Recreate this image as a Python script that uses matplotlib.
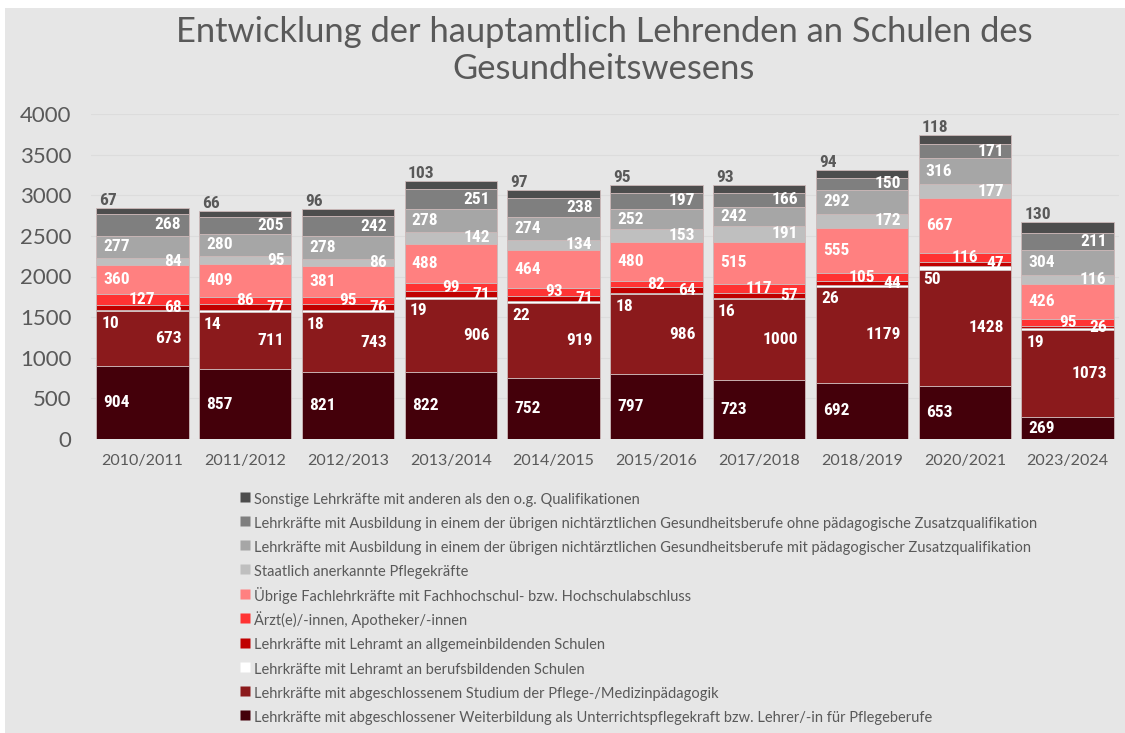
import numpy as np
import matplotlib
matplotlib.use('Agg')
import matplotlib.pyplot as plt
from matplotlib import font_manager
from matplotlib.lines import Line2D
from matplotlib.patches import Rectangle

# school years on the x axis
years = ['2010/2011', '2011/2012', '2012/2013', '2013/2014', '2014/2015',
         '2015/2016', '2017/2018', '2018/2019', '2020/2021', '2023/2024']

# stacked series, bottom to top
weiterbildung = [904, 857, 821, 822, 752, 797, 723, 692, 653, 269]
studium_paed = [673, 711, 743, 906, 919, 986, 1000, 1179, 1428, 1073]
lehramt_beruf = [10, 14, 18, 19, 22, 18, 16, 26, 50, 19]
lehramt_allg = [68, 77, 76, 71, 71, 64, 57, 44, 47, 26]
aerzte = [127, 86, 95, 99, 93, 82, 117, 105, 116, 95]
fachlehr = [360, 409, 381, 488, 464, 480, 515, 555, 667, 426]
pflegekraefte = [84, 95, 86, 142, 134, 153, 191, 172, 177, 116]
mit_zusatz = [277, 280, 278, 278, 274, 252, 242, 292, 316, 304]
ohne_zusatz = [268, 205, 242, 251, 238, 197, 166, 150, 171, 211]
sonstige = [67, 66, 96, 103, 97, 95, 93, 94, 118, 130]

series_names = [
    'Lehrkräfte mit abgeschlossener Weiterbildung als Unterrichtspflegekraft bzw. Lehrer/-in für Pflegeberufe',
    'Lehrkräfte mit abgeschlossenem Studium der Pflege-/Medizinpädagogik',
    'Lehrkräfte mit Lehramt an berufsbildenden Schulen',
    'Lehrkräfte mit Lehramt an allgemeinbildenden Schulen',
    'Ärzt(e)/-innen, Apotheker/-innen',
    'Übrige Fachlehrkräfte mit Fachhochschul- bzw. Hochschulabschluss',
    'Staatlich anerkannte Pflegekräfte',
    'Lehrkräfte mit Ausbildung in einem der übrigen nichtärztlichen Gesundheitsberufe mit pädagogischer Zusatzqualifikation',
    'Lehrkräfte mit Ausbildung in einem der übrigen nichtärztlichen Gesundheitsberufe ohne pädagogische Zusatzqualifikation',
    'Sonstige Lehrkräfte mit anderen als den o.g. Qualifikationen',
]
series_values = [weiterbildung, studium_paed, lehramt_beruf, lehramt_allg, aerzte,
                 fachlehr, pflegekraefte, mit_zusatz, ohne_zusatz, sonstige]
colors = ['#44000A', '#8B1A1C', '#FFFFFF', '#C00000', '#FF3333',
          '#FF8080', '#BFBFBF', '#A6A6A6', '#7F7F7F', '#4D4D4D']

# where the value label sits for each series
placement = ['left', 'right', 'left_below', 'right', 'center',
             'left', 'right', 'left', 'right', 'top']


def pick_font(candidates):
    names = {f.name for f in font_manager.fontManager.ttflist}
    for c in candidates:
        if c in names:
            return c
    return 'DejaVu Sans'


text_font = pick_font(['Lato', 'Open Sans', 'DejaVu Sans'])
label_font = pick_font(['Liberation Sans Narrow', 'Roboto Condensed',
                        'DejaVu Sans Condensed', 'Roboto'])

grey_text = '#595959'
bg = '#E6E6E6'

fig = plt.figure(figsize=(11.25, 7.33), dpi=100, facecolor='white')
fig.patches.append(Rectangle((5 / 1125, 0), 1, 1 - 8 / 733, transform=fig.transFigure,
                             facecolor=bg, edgecolor='none', zorder=-10))

ax = fig.add_axes([91 / 1125, 1 - 439 / 733, (1119 - 91) / 1125, (439 - 114) / 733])
ax.patch.set_alpha(0)

x = np.arange(len(years))
width = 0.9
bottom = np.zeros(len(years))
for vals, col, name, place in zip(series_values, colors, series_names, placement):
    vals = np.array(vals, dtype=float)
    ax.bar(x, vals, width, bottom=bottom, color=col, edgecolor='#CDB9B9',
           linewidth=0.6, label=name, zorder=3)
    for xi, v, b in zip(x, vals, bottom):
        txt = '%d' % v
        kw = dict(fontsize=12.5, fontweight='bold', family=label_font,
                  color='white', zorder=5, annotation_clip=False,
                  textcoords='offset points')
        if place == 'left':
            ax.annotate(txt, (xi - 0.38, b + v / 2), xytext=(0, 0),
                        ha='left', va='center', **kw)
        elif place == 'right':
            ax.annotate(txt, (xi + 0.38, b + v / 2), xytext=(0, 0),
                        ha='right', va='center', **kw)
        elif place == 'left_below':
            ax.annotate(txt, (xi - 0.40, b + v), xytext=(0, -10),
                        ha='left', va='center', **kw)
        elif place == 'center':
            ax.annotate(txt, (xi, b + v / 2), xytext=(0, 0),
                        ha='center', va='center', **kw)
        else:
            kw['color'] = grey_text
            ax.annotate(txt, (xi - 0.42, b + v), xytext=(0, 0),
                        ha='left', va='bottom', **kw)
    bottom += vals

ax.set_xlim(-0.5, len(years) - 0.5)
ax.set_ylim(0, 4000)
ax.set_yticks(np.arange(0, 4001, 500))
ax.set_xticks(x)
ax.set_xticklabels(years)
ax.tick_params(axis='both', length=0, colors=grey_text)
ax.tick_params(axis='y', labelsize=16, pad=14)
ax.tick_params(axis='x', labelsize=11.5, pad=11)
for lab in ax.get_xticklabels() + ax.get_yticklabels():
    lab.set_family(text_font)
ax.grid(axis='y', color='#DCDCDC', linewidth=0.8, zorder=0)
for s in ax.spines.values():
    s.set_visible(False)

fig.text(604 / 1125, 1 - 16 / 733,
         'Entwicklung der hauptamtlich Lehrenden an Schulen des\nGesundheitswesens',
         ha='center', va='top', fontsize=24.8, color=grey_text, family=text_font,
         linespacing=1.2)

handles = [Line2D([], [], linestyle='none', marker='s', markersize=7,
                  markerfacecolor=c, markeredgecolor='none') for c in colors][::-1]
leg = fig.legend(handles, series_names[::-1], loc='upper left',
                 bbox_to_anchor=(239 / 1125, 1 - 490 / 733), frameon=False,
                 handlelength=0.8, handleheight=1.5,
                 handletextpad=0.25, labelspacing=0.44, borderaxespad=0,
                 borderpad=0, prop={'family': text_font, 'size': 10.5})
for t in leg.get_texts():
    t.set_color(grey_text)

fig.savefig('out.png', dpi=100, facecolor=fig.get_facecolor())
